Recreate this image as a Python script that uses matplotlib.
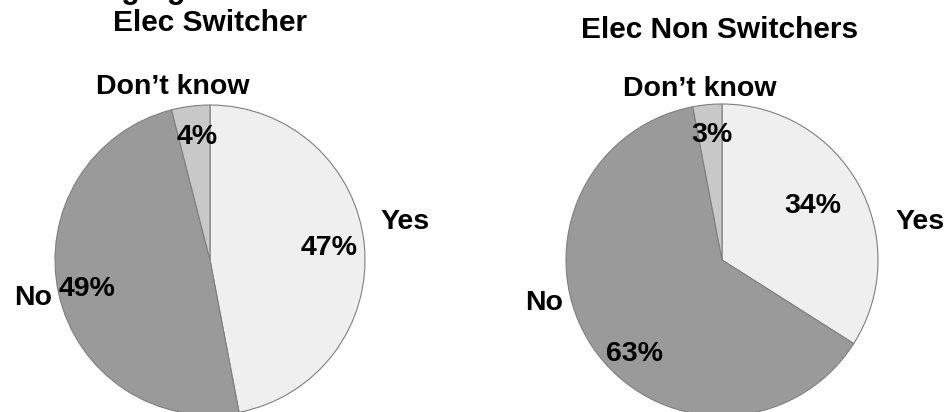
import matplotlib
matplotlib.use("Agg")
import matplotlib.pyplot as plt

plt.rcParams['font.family'] = ['Liberation Sans', 'DejaVu Sans']

categories = ["Yes", "No", "Don\u2019t know"]
switcher_values = [47, 49, 4]
non_switcher_values = [34, 63, 3]
titles = ["Elec Switcher", "Elec Non Switchers"]
colors = ["#efefef", "#9a9a9a", "#c8c8c8"]

fig = plt.figure(figsize=(9.44, 4.12), dpi=100)
ax = fig.add_axes([0, 0, 1, 1])
ax.set_xlim(0, 944)
ax.set_ylim(0, 412)
ax.axis('off')

pies = [
    dict(values=switcher_values, center=(210, 152), radius=155,
         lab_pos=[(1.258, 0.245), (-1.142, -0.245), (-0.239, 1.116)],
         pct_pos=[(0.768, 0.077), (-0.794, -0.187), (-0.084, 0.794)],
         title_xy=(210, 389)),
    dict(values=non_switcher_values, center=(722, 152), radius=156,
         lab_pos=[(1.269, 0.244), (-1.141, -0.276), (-0.141, 1.096)],
         pct_pos=[(0.583, 0.346), (-0.558, -0.603), (-0.064, 0.801)],
         title_xy=(720, 382)),
]

for p, title in zip(pies, titles):
    cx, cy = p['center']
    r = p['radius']
    wedges, texts, autotexts = ax.pie(
        p['values'], labels=categories, colors=colors, startangle=90,
        counterclock=False, center=(cx, cy), radius=r, frame=True,
        autopct=lambda v: f"{v:.0f}%",
        wedgeprops=dict(edgecolor="#7f7f7f", linewidth=0.8),
        textprops=dict(fontsize=20.5, fontweight='bold', color='black'))
    for t, (dx, dy) in zip(texts, p['lab_pos']):
        t.set_position((cx + dx * r, cy + dy * r))
        t.set_ha('center'); t.set_va('center')
    for t, (dx, dy) in zip(autotexts, p['pct_pos']):
        t.set_position((cx + dx * r, cy + dy * r))
        t.set_ha('center'); t.set_va('center')
    ax.text(p['title_xy'][0], p['title_xy'][1], title, ha='center', va='center',
            fontsize=21.5, fontweight='bold')

ax.set_xlim(0, 944)
ax.set_ylim(0, 412)
ax.set_aspect('auto')
ax.axis('off')

ax.text(186, 414, "Changing", ha='right', va='baseline', fontsize=22,
        fontweight='bold', clip_on=False)

fig.savefig("out.png", dpi=100)
